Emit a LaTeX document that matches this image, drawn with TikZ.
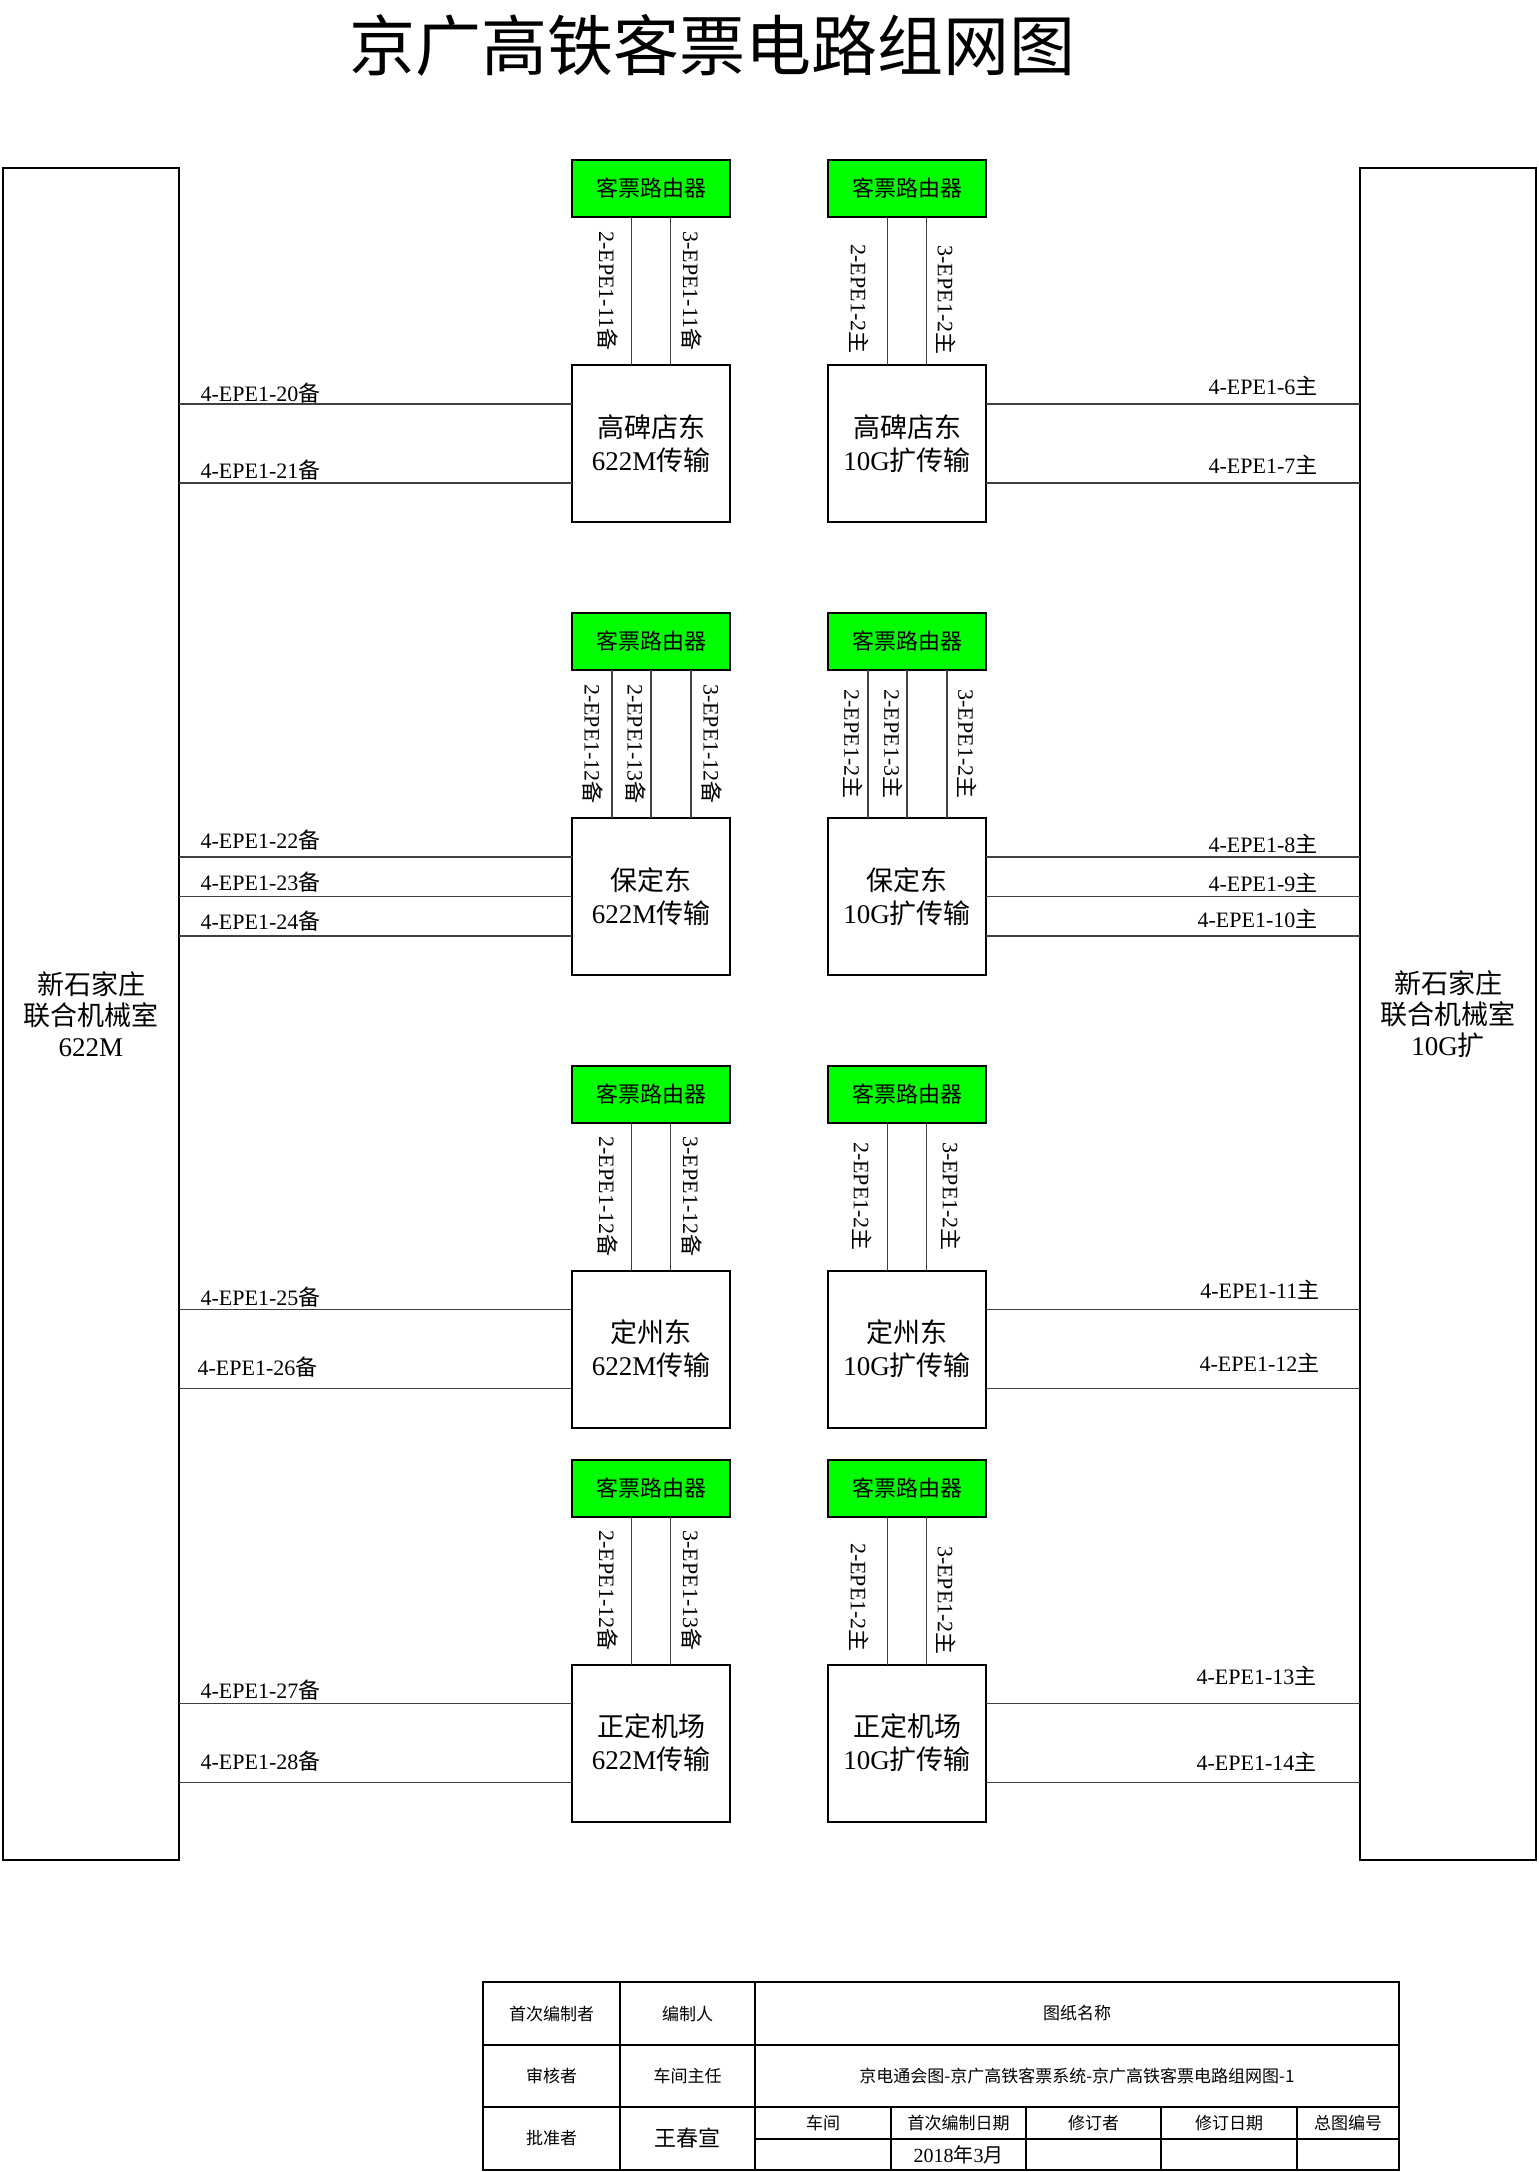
\documentclass[tikz,border=0pt]{standalone}
\usepackage{fontspec}
\setmainfont{Liberation Serif}
\newfontfamily\cjk{Noto Sans CJK SC}
\newcommand{\zh}[1]{{\cjk #1}}
\newcommand{\bei}{{\cjk 备}}
\newcommand{\zhu}{{\cjk 主}}
\definecolor{routergreen}{RGB}{0,255,0}
\tikzset{
  box/.style={draw, line width=2pt, minimum width=158, minimum height=157, align=center, inner sep=0, outer sep=0, font=\fontsize{27}{33}\selectfont},
  router/.style={box, fill=routergreen, minimum height=57, font=\cjk\fontsize{22}{26}\selectfont},
  sidebox/.style={box, minimum width=176, minimum height=1692, font=\fontsize{27}{31}\selectfont},
  link/.style={line width=1.3pt, black!75},
  lbl/.style={text=black, font=\fontsize{22}{25}\selectfont, inner sep=0},
  vlbl/.style={lbl, rotate=-90},
  frame/.style={line width=2pt},
  cell/.style={inner sep=0, font=\cjk\fontsize{17}{20}\selectfont}
}

\begin{document}
\begin{tikzpicture}[x=1pt,y=-1pt]
\useasboundingbox (0,0) rectangle (1539,2172);
\node[font=\cjk\fontsize{66}{70}\selectfont] (title) at (712,45) {京广高铁客票电路组网图};

\node[sidebox] (xjz622) at (91,1014) {\zh{新石家庄}\\\zh{联合机械室}\\622M};
\node[sidebox] (xjz10g) at (1448,1014) {\zh{新石家庄}\\\zh{联合机械室}\\10G\zh{扩}};

% 高碑店东
\node[router] (r1l) at (651,188.5) {客票路由器};
\node[router] (r1r) at (907,188.5) {客票路由器};
\node[box] (m1l) at (651,443.5) {\zh{高碑店东}\\622M\zh{传输}};
\node[box] (m1r) at (907,443.5) {\zh{高碑店东}\\10G\zh{扩传输}};
\draw[link] ([xshift=-19.5pt]r1l.south) -- ([xshift=-19.5pt]m1l.north) node[midway, xshift=-24pt, vlbl] {2-EPE1-11\bei};
\draw[link] ([xshift=19.5pt]r1l.south) -- ([xshift=19.5pt]m1l.north) node[midway, xshift=21pt, vlbl] {3-EPE1-11\bei};
\draw[link] ([xshift=-19.5pt]r1r.south) -- ([xshift=-19.5pt]m1r.north) node[midway, xshift=-28pt, yshift=-8pt, vlbl] {2-EPE1-2\zhu};
\draw[link] ([xshift=19.5pt]r1r.south) -- ([xshift=19.5pt]m1r.north) node[midway, xshift=20pt, yshift=-9pt, vlbl] {3-EPE1-2\zhu};
\draw[link] ([yshift=39.5pt]m1l.west) -- ([yshift=39.5pt]m1l.west -| xjz622.east) node[pos=1, anchor=west, xshift=21pt, yshift=11pt, lbl] {4-EPE1-20\bei};
\draw[link] ([yshift=-39.5pt]m1l.west) -- ([yshift=-39.5pt]m1l.west -| xjz622.east) node[pos=1, anchor=west, xshift=21pt, yshift=13pt, lbl] {4-EPE1-21\bei};
\draw[link] ([yshift=39.5pt]m1r.east) -- ([yshift=39.5pt]m1r.east -| xjz10g.west) node[pos=1, anchor=east, xshift=-42pt, yshift=18pt, lbl] {4-EPE1-6\zhu};
\draw[link] ([yshift=-39.5pt]m1r.east) -- ([yshift=-39.5pt]m1r.east -| xjz10g.west) node[pos=1, anchor=east, xshift=-42pt, yshift=18pt, lbl] {4-EPE1-7\zhu};

% 保定东
\node[router] (r2l) at (651,641.5) {客票路由器};
\node[router] (r2r) at (907,641.5) {客票路由器};
\node[box] (m2l) at (651,896.5) {\zh{保定东}\\622M\zh{传输}};
\node[box] (m2r) at (907,896.5) {\zh{保定东}\\10G\zh{扩传输}};
\draw[link] ([xshift=-39pt]r2l.south) -- ([xshift=-39pt]m2l.north) node[midway, xshift=-19pt, vlbl] {2-EPE1-12\bei};
\draw[link] (r2l.south) -- (m2l.north) node[midway, xshift=-15pt, vlbl] {2-EPE1-13\bei};
\draw[link] ([xshift=40pt]r2l.south) -- ([xshift=40pt]m2l.north) node[midway, xshift=21pt, vlbl] {3-EPE1-12\bei};
\draw[link] ([xshift=-39pt]r2r.south) -- ([xshift=-39pt]m2r.north) node[midway, xshift=-15pt, vlbl] {2-EPE1-2\zhu};
\draw[link] (r2r.south) -- (m2r.north) node[midway, xshift=-14pt, vlbl] {2-EPE1-3\zhu};
\draw[link] ([xshift=40pt]r2r.south) -- ([xshift=40pt]m2r.north) node[midway, xshift=20pt, vlbl] {3-EPE1-2\zhu};
\draw[link] ([yshift=39.5pt]m2l.west) -- ([yshift=39.5pt]m2l.west -| xjz622.east) node[pos=1, anchor=west, xshift=21pt, yshift=17pt, lbl] {4-EPE1-22\bei};
\draw[link] (m2l.west) -- (m2l.west -| xjz622.east) node[pos=1, anchor=west, xshift=21pt, yshift=14pt, lbl] {4-EPE1-23\bei};
\draw[link] ([yshift=-39.5pt]m2l.west) -- ([yshift=-39.5pt]m2l.west -| xjz622.east) node[pos=1, anchor=west, xshift=21pt, yshift=15pt, lbl] {4-EPE1-24\bei};
\draw[link] ([yshift=39.5pt]m2r.east) -- ([yshift=39.5pt]m2r.east -| xjz10g.west) node[pos=1, anchor=east, xshift=-42pt, yshift=13pt, lbl] {4-EPE1-8\zhu};
\draw[link] (m2r.east) -- (m2r.east -| xjz10g.west) node[pos=1, anchor=east, xshift=-42pt, yshift=14pt, lbl] {4-EPE1-9\zhu};
\draw[link] ([yshift=-39.5pt]m2r.east) -- ([yshift=-39.5pt]m2r.east -| xjz10g.west) node[pos=1, anchor=east, xshift=-42pt, yshift=17pt, lbl] {4-EPE1-10\zhu};

% 定州东
\node[router] (r3l) at (651,1094) {客票路由器};
\node[router] (r3r) at (907,1094) {客票路由器};
\node[box] (m3l) at (651,1349) {\zh{定州东}\\622M\zh{传输}};
\node[box] (m3r) at (907,1349) {\zh{定州东}\\10G\zh{扩传输}};
\draw[link] ([xshift=-19.5pt]r3l.south) -- ([xshift=-19.5pt]m3l.north) node[midway, xshift=-24pt, vlbl] {2-EPE1-12\bei};
\draw[link] ([xshift=19.5pt]r3l.south) -- ([xshift=19.5pt]m3l.north) node[midway, xshift=21pt, vlbl] {3-EPE1-12\bei};
\draw[link] ([xshift=-19.5pt]r3r.south) -- ([xshift=-19.5pt]m3r.north) node[midway, xshift=-25pt, vlbl] {2-EPE1-2\zhu};
\draw[link] ([xshift=19.5pt]r3r.south) -- ([xshift=19.5pt]m3r.north) node[midway, xshift=25pt, vlbl] {3-EPE1-2\zhu};
\draw[link] ([yshift=39.5pt]m3l.west) -- ([yshift=39.5pt]m3l.west -| xjz622.east) node[pos=1, anchor=west, xshift=21pt, yshift=12pt, lbl] {4-EPE1-25\bei};
\draw[link] ([yshift=-39.5pt]m3l.west) -- ([yshift=-39.5pt]m3l.west -| xjz622.east) node[pos=1, anchor=west, xshift=18pt, yshift=21pt, lbl] {4-EPE1-26\bei};
\draw[link] ([yshift=39.5pt]m3r.east) -- ([yshift=39.5pt]m3r.east -| xjz10g.west) node[pos=1, anchor=east, xshift=-40pt, yshift=20pt, lbl] {4-EPE1-11\zhu};
\draw[link] ([yshift=-39.5pt]m3r.east) -- ([yshift=-39.5pt]m3r.east -| xjz10g.west) node[pos=1, anchor=east, xshift=-40pt, yshift=26pt, lbl] {4-EPE1-12\zhu};

% 正定机场
\node[router] (r4l) at (651,1488) {客票路由器};
\node[router] (r4r) at (907,1488) {客票路由器};
\node[box] (m4l) at (651,1743) {\zh{正定机场}\\622M\zh{传输}};
\node[box] (m4r) at (907,1743) {\zh{正定机场}\\10G\zh{扩传输}};
\draw[link] ([xshift=-19.5pt]r4l.south) -- ([xshift=-19.5pt]m4l.north) node[midway, xshift=-24pt, vlbl] {2-EPE1-12\bei};
\draw[link] ([xshift=19.5pt]r4l.south) -- ([xshift=19.5pt]m4l.north) node[midway, xshift=21pt, vlbl] {3-EPE1-13\bei};
\draw[link] ([xshift=-19.5pt]r4r.south) -- ([xshift=-19.5pt]m4r.north) node[midway, xshift=-28pt, yshift=-7pt, vlbl] {2-EPE1-2\zhu};
\draw[link] ([xshift=19.5pt]r4r.south) -- ([xshift=19.5pt]m4r.north) node[midway, xshift=20pt, yshift=-10pt, vlbl] {3-EPE1-2\zhu};
\draw[link] ([yshift=39.5pt]m4l.west) -- ([yshift=39.5pt]m4l.west -| xjz622.east) node[pos=1, anchor=west, xshift=21pt, yshift=13pt, lbl] {4-EPE1-27\bei};
\draw[link] ([yshift=-39.5pt]m4l.west) -- ([yshift=-39.5pt]m4l.west -| xjz622.east) node[pos=1, anchor=west, xshift=21pt, yshift=21pt, lbl] {4-EPE1-28\bei};
\draw[link] ([yshift=39.5pt]m4r.east) -- ([yshift=39.5pt]m4r.east -| xjz10g.west) node[pos=1, anchor=east, xshift=-43pt, yshift=28pt, lbl] {4-EPE1-13\zhu};
\draw[link] ([yshift=-39.5pt]m4r.east) -- ([yshift=-39.5pt]m4r.east -| xjz10g.west) node[pos=1, anchor=east, xshift=-43pt, yshift=21pt, lbl] {4-EPE1-14\zhu};

% title block
\draw[frame] (483,1982) rectangle (1399,2170);
\draw[frame] (483,2045) -- (1399,2045) (483,2107) -- (1399,2107) (755,2139) -- (1399,2139);
\draw[frame] (620,1982) -- (620,2170) (755,1982) -- (755,2170);
\foreach \x in {891,1026,1161,1297} \draw[frame] (\x,2107) -- (\x,2170);
\node[cell] (c11) at (551.5,2013.5) {首次编制者};
\node[cell] (c12) at (687.5,2013.5) {编制人};
\node[cell] (c13) at (1077,2013.5) {图纸名称};
\node[cell] (c21) at (551.5,2076) {审核者};
\node[cell] (c22) at (687.5,2076) {车间主任};
\node[cell] (c23) at (1077,2076) {京电通会图-京广高铁客票系统-京广高铁客票电路组网图-1};
\node[cell] (c31) at (551.5,2138.5) {批准者};
\node[cell, font=\cjk\fontsize{22}{26}\selectfont] (c32) at (687.5,2138.5) {王春宣};
\foreach \x/\t [count=\i] in {823/车间, 958.5/首次编制日期, 1093.5/修订者, 1229/修订日期, 1348/总图编号}
  \node[cell] (h\i) at (\x,2123) {\t};
\node[cell, font=\fontsize{20}{24}\selectfont] (date) at (958.5,2155) {2018\zh{年}3\zh{月}};
\end{tikzpicture}
\end{document}
